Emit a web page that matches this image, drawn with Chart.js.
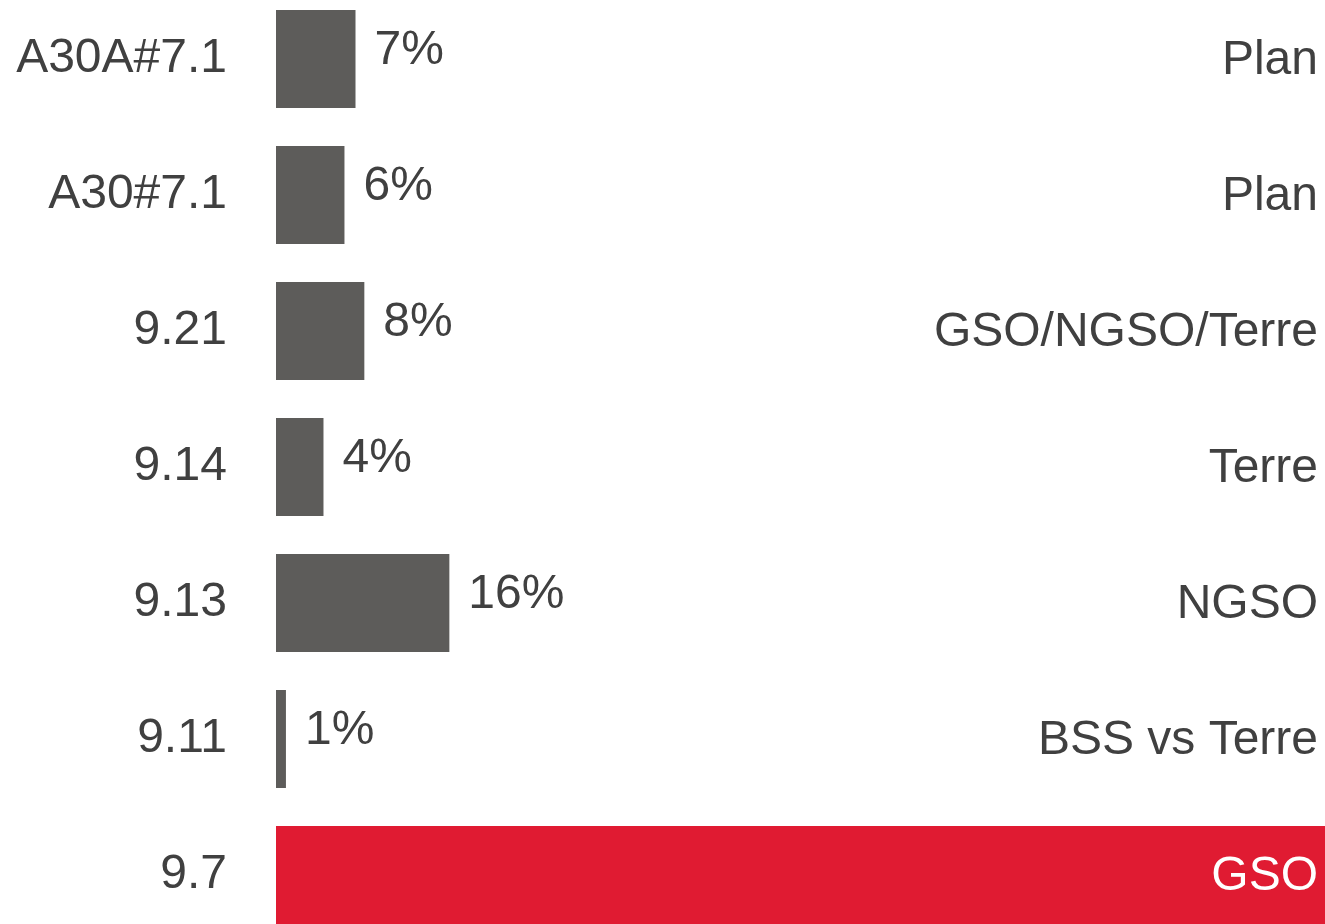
<!DOCTYPE html>
<html>
<head>
<meta charset="utf-8">
<script src="https://cdn.jsdelivr.net/npm/chart.js@4/dist/chart.umd.min.js"></script>
<style>
  html, body { margin: 0; padding: 0; background: #fff; overflow: hidden; }
  #wrap { position: absolute; left: 0; top: -9px; width: 1325px; height: 952px; }
</style>
</head>
<body>
<div id="wrap"><canvas id="chart"></canvas></div>
<script>
// resolution numbers, share of items, group labels
const categories = ['A30A#7.1', 'A30#7.1', '9.21', '9.14', '9.13', '9.11', '9.7'];
const shares = [7.2, 6.2, 8.0, 4.3, 15.7, 0.9, 95];
const shareLabels = ['7%', '6%', '8%', '4%', '16%', '1%', ''];
const groups = ['Plan', 'Plan', 'GSO/NGSO/Terre', 'Terre', 'NGSO', 'BSS vs Terre', 'GSO'];

const GREY = '#5d5c5a';
const RED = '#e01b32';
const TEXT = '#404040';
const FAMILY = '"Liberation Sans", Arial, sans-serif';
const SIZE = 48;

var barColors = categories.map((c, i) => i === categories.length - 1 ? RED : GREY);

// draws the % next to each bar and the group name on the right
const labelsPlugin = {
    id: 'sideLabels',
    afterDatasetsDraw: function (chart) {
        const ctx = chart.ctx;
        const area = chart.chartArea;
        const meta = chart.getDatasetMeta(0);
        ctx.save();
        ctx.font = SIZE + 'px ' + FAMILY;
        ctx.textBaseline = 'middle';
        meta.data.forEach((bar, i) => {
            if (shareLabels[i]) {
                ctx.fillStyle = TEXT;
                ctx.textAlign = 'left';
                ctx.fillText(shareLabels[i], bar.x + 19, bar.y - 8);
            }
            ctx.fillStyle = i === categories.length - 1 ? '#ffffff' : TEXT;
            ctx.textAlign = 'right';
            ctx.fillText(groups[i], area.right - 7, bar.y + 2);
        });
        ctx.restore();
    }
};

var ctx = document.getElementById('chart');
new Chart(ctx, {
    type: 'bar',
    data: {
        labels: categories,
        datasets: [{
            data: shares,
            backgroundColor: barColors,
            borderWidth: 0,
            barPercentage: 0.72,
            categoryPercentage: 1
        }]
    },
    options: {
        indexAxis: 'y',
        responsive: true,
        maintainAspectRatio: false,
        animation: false,
        layout: { padding: 0 },
        plugins: {
            legend: { display: false },
            tooltip: { enabled: false }
        },
        scales: {
            x: {
                display: false,
                min: 0,
                max: 95
            },
            y: {
                grid: { display: false },
                border: { display: false },
                ticks: {
                    color: TEXT,
                    font: { family: FAMILY, size: SIZE },
                    padding: 41
                },
                afterFit: function (scale) {
                    scale.width = 276;
                    scale.paddingTop = 0;
                    scale.paddingBottom = 0;
                }
            }
        }
    },
    plugins: [labelsPlugin]
});
</script>
</body>
</html>
